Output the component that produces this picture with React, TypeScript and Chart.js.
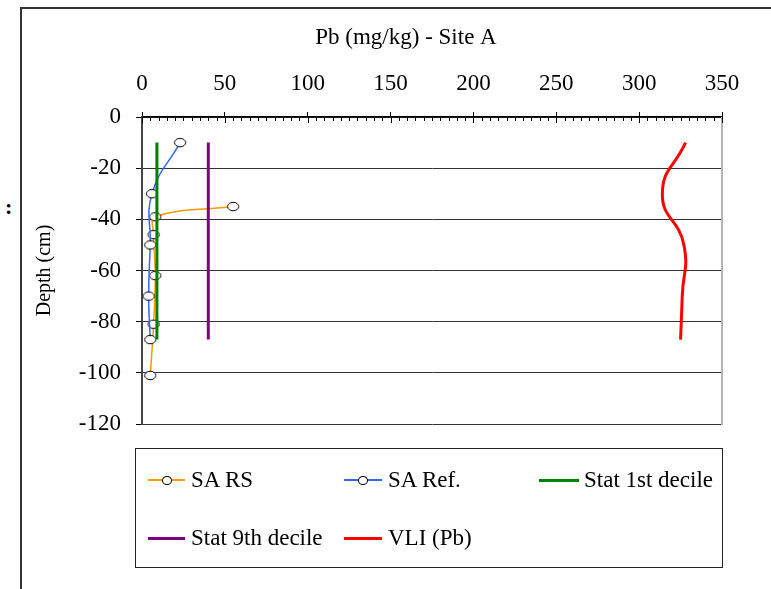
import React, { useEffect, useRef } from 'react';
import { Chart, registerables } from 'chart.js';

Chart.register(...registerables);

const FONT = "'Liberation Serif', 'Times New Roman', serif";

const chartTitle = 'Pb (mg/kg) - Site A';
const yAxisTitle = 'Depth (cm)';
const xMin = 0;
const xMax = 350;
const xStep = 50;
const xMinorStep = 5;
const yMin = -120;
const yMax = 0;
const yStep = 20;

const saRsDepth = [-35, -39, -46, -62, -81, -101];
const saRsPb = [55, 8, 7, 8, 7, 5];
const saRefDepth = [-10, -30, -50, -70, -87];
const saRefPb = [23, 6, 5, 4, 5];
const statDepth = [-10, -30, -50, -70, -87];
const stat1stDecile = [9, 9, 9, 9, 9];
const stat9thDecile = [40, 40, 40, 40, 40];
const vliDepth = [-10, -30, -50, -70, -87];
const vliPb = [328, 314, 327, 326, 325];

const seriesLabels = ['SA RS', 'SA Ref.', 'Stat 1st decile', 'Stat 9th decile', 'VLI (Pb)'];
const seriesColors = ['#FF9900', '#3366FF', '#008000', '#800080', '#FF0000'];

const pts = (xs: number[], ys: number[]) => xs.map((x, i) => ({ x, y: ys[i] }));

function makeEllipseMarker(): HTMLCanvasElement {
  const c = document.createElement('canvas');
  c.width = 14;
  c.height = 11;
  const g = c.getContext('2d')!;
  g.beginPath();
  g.ellipse(7, 5.5, 5.6, 4.2, 0, 0, Math.PI * 2);
  g.fillStyle = '#fff';
  g.fill();
  g.strokeStyle = '#000';
  g.lineWidth = 1;
  g.stroke();
  return c;
}

const decorPlugin = {
  id: 'decor',
  afterDraw(chart: any) {
    const ctx = chart.ctx;
    const { top, bottom, right } = chart.chartArea;
    const xs = chart.scales.x;
    ctx.save();
    ctx.strokeStyle = '#b4b4b4';
    ctx.lineWidth = 2;
    ctx.beginPath();
    ctx.moveTo(right, top);
    ctx.lineTo(right, bottom + 1);
    ctx.stroke();
    ctx.strokeStyle = '#000';
    ctx.lineWidth = 1;
    ctx.beginPath();
    for (let v = xMin; v <= xMax; v += xMinorStep) {
      const px = Math.round(xs.getPixelForValue(v)) + 0.5;
      const major = v % xStep === 0;
      ctx.moveTo(px, top);
      ctx.lineTo(px, top + (major ? 6 : 4));
    }
    ctx.stroke();
    ctx.fillStyle = '#000';
    ctx.font = `23px ${FONT}`;
    ctx.textAlign = 'center';
    ctx.textBaseline = 'middle';
    ctx.fillText(chartTitle, 406, 38);
    ctx.restore();
  },
};

export default function App() {
  const canvasRef = useRef<HTMLCanvasElement | null>(null);

  useEffect(() => {
    if (!canvasRef.current) return;
    const marker = makeEllipseMarker();
    const markerStyle = {
      pointRadius: 5,
      pointStyle: marker,
    };
    const chart = new Chart(canvasRef.current, {
      type: 'scatter',
      data: {
        datasets: [
          {
            label: seriesLabels[0],
            data: pts(saRsPb, saRsDepth),
            showLine: true,
            borderColor: seriesColors[0],
            borderWidth: 1.5,
            tension: 0.4,
            order: 5,
            ...markerStyle,
          },
          {
            label: seriesLabels[1],
            data: pts(saRefPb, saRefDepth),
            showLine: true,
            borderColor: seriesColors[1],
            borderWidth: 1.5,
            tension: 0.45,
            order: 4,
            ...markerStyle,
          },
          {
            label: seriesLabels[2],
            data: pts(stat1stDecile, statDepth),
            showLine: true,
            borderColor: seriesColors[2],
            borderWidth: 3,
            pointRadius: 0,
            order: 3,
          },
          {
            label: seriesLabels[3],
            data: pts(stat9thDecile, statDepth),
            showLine: true,
            borderColor: seriesColors[3],
            borderWidth: 3,
            pointRadius: 0,
            order: 2,
          },
          {
            label: seriesLabels[4],
            data: pts(vliPb, vliDepth),
            showLine: true,
            borderColor: seriesColors[4],
            borderWidth: 3,
            tension: 0.5,
            pointRadius: 0,
            order: 1,
          },
        ],
      } as any,
      options: {
        responsive: false,
        animation: false,
        layout: { padding: { left: 21, top: 0, right: 49, bottom: 165 } },
        plugins: {
          legend: { display: false },
          tooltip: { enabled: false },
          title: { display: false },
        },
        scales: {
          x: {
            type: 'linear',
            position: 'top',
            min: xMin,
            max: xMax,
            ticks: {
              stepSize: xStep,
              font: { family: FONT, size: 23 },
              color: '#000',
              padding: 14,
              maxRotation: 0,
              autoSkip: false,
            },
            grid: {
              drawOnChartArea: false,
              drawTicks: true,
              tickLength: 5,
              color: '#000',
            },
            border: { display: true, color: '#000', width: 1.5 },
            afterFit: (s: any) => {
              s.height = 117;
            },
          },
          y: {
            type: 'linear',
            min: yMin,
            max: yMax,
            ticks: {
              stepSize: yStep,
              font: { family: FONT, size: 23 },
              color: '#000',
              padding: 15,
            },
            grid: {
              color: '#333',
              lineWidth: 1,
              tickLength: 6,
              drawTicks: true,
              tickColor: '#000',
            },
            border: { display: true, color: '#444', width: 2 },
            title: {
              display: true,
              text: yAxisTitle,
              font: { family: FONT, size: 20 },
              color: '#000',
              padding: { top: 12, bottom: 0 },
            },
            afterFit: (s: any) => {
              s.width = 121;
            },
          },
        },
      } as any,
      plugins: [decorPlugin],
    });
    return () => chart.destroy();
  }, []);

  const legendRow1 = 480;
  const legendRow2 = 538;
  const legendItems = [
    { idx: 0, x1: 148, x2: 185, tx: 191, y: legendRow1, marker: true, lw: 1.5 },
    { idx: 1, x1: 344, x2: 382, tx: 388, y: legendRow1, marker: true, lw: 1.5 },
    { idx: 2, x1: 539, x2: 579, tx: 584, y: legendRow1, marker: false, lw: 3 },
    { idx: 3, x1: 148, x2: 185, tx: 191, y: legendRow2, marker: false, lw: 3 },
    { idx: 4, x1: 344, x2: 382, tx: 388, y: legendRow2, marker: false, lw: 3 },
  ];

  return (
    <div
      style={{
        position: 'fixed',
        left: 0,
        top: 0,
        width: 771,
        height: 589,
        background: '#fff',
        overflow: 'hidden',
        fontFamily: FONT,
      }}
    >
      <div
        style={{
          position: 'absolute',
          left: 20,
          top: 7,
          width: 800,
          height: 700,
          borderLeft: '2px solid #333',
          borderTop: '2px solid #333',
        }}
      />
      <div
        style={{
          position: 'absolute',
          left: 5,
          top: 196,
          fontSize: 22,
          fontWeight: 'bold',
          lineHeight: 1,
          color: '#000',
        }}
      >
        :
      </div>
      <canvas
        ref={canvasRef}
        width={771}
        height={589}
        style={{ position: 'absolute', left: 0, top: 0, width: 771, height: 589 }}
      />
      <div
        style={{
          position: 'absolute',
          left: 135,
          top: 448,
          width: 586,
          height: 118,
          border: '1px solid #222',
        }}
      />
      {legendItems.map((it) => (
        <React.Fragment key={it.idx}>
          <div
            style={{
              position: 'absolute',
              left: it.x1,
              top: it.y - it.lw / 2,
              width: it.x2 - it.x1,
              height: it.lw,
              background: seriesColors[it.idx],
            }}
          />
          {it.marker && (
            <div
              style={{
                position: 'absolute',
                left: (it.x1 + it.x2) / 2 - 5,
                top: it.y - 4,
                width: 8,
                height: 7,
                borderRadius: '50%',
                border: '1px solid #000',
                background: '#fff',
              }}
            />
          )}
          <div
            style={{
              position: 'absolute',
              left: it.tx,
              top: it.y - 14,
              height: 28,
              lineHeight: '28px',
              fontSize: 23,
              color: '#000',
              whiteSpace: 'nowrap',
            }}
          >
            {seriesLabels[it.idx]}
          </div>
        </React.Fragment>
      ))}
    </div>
  );
}
